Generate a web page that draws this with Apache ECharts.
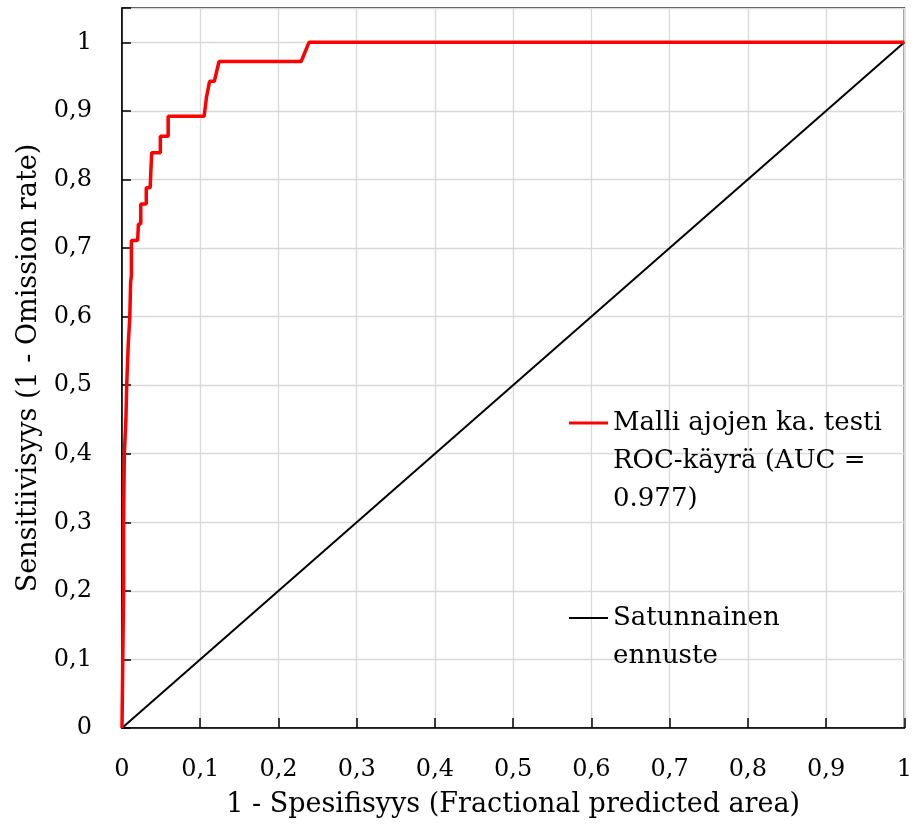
<!DOCTYPE html>
<html lang="fi">
<head>
    <meta charset="UTF-8">
    <script type="text/javascript" src="https://cdn.jsdelivr.net/npm/echarts@6/dist/echarts.min.js"></script>
    <title>ROC-käyrä</title>
    <style>
        html, body { margin: 0; padding: 0; background: #fff; }
    </style>
</head>
<body>
<div id="main" style="width: 915px;height:834px;"></div>
<script type="text/javascript">
    // ROC-käyrän pisteet [1 - spesifisyys, sensitiivisyys]
    var roc_x = [0, 0.001, 0.002, 0.002, 0.003, 0.005, 0.006, 0.008, 0.010, 0.011, 0.012, 0.012,
        0.020, 0.021, 0.024, 0.024, 0.031, 0.031, 0.036, 0.037, 0.038, 0.049, 0.049, 0.059, 0.059,
        0.105, 0.108, 0.112, 0.118, 0.124, 0.229, 0.239, 1];
    var roc_y = [0, 0.1, 0.2, 0.3, 0.4, 0.45, 0.5, 0.56, 0.6, 0.65, 0.66, 0.711,
        0.711, 0.735, 0.735, 0.764, 0.764, 0.788, 0.788, 0.815, 0.839, 0.839, 0.863, 0.863, 0.892,
        0.892, 0.92, 0.943, 0.943, 0.972, 0.972, 1, 1];
    // satunnainen ennuste
    var rand_x = [0, 1];
    var rand_y = [0, 1];

    var nimi_roc = 'Malli ajojen ka. testi\nROC-käyrä (AUC =\n0.977)';
    var nimi_rand = 'Satunnainen\nennuste';

    function pairs(xs, ys) {
        var out = [];
        for (var i = 0; i < xs.length; i++) {
            out.push([xs[i], ys[i]]);
        }
        return out;
    }

    function pilkku(v) {
        return String(+v.toFixed(2)).replace('.', ',');
    }

    var font = 'DejaVu Serif';
    var myChart = echarts.init(document.getElementById('main'));

    // selite: tyhjät rivit eteen, jotta viiva osuu ensimmäiselle riville
    var legendText = {
        fontFamily: font,
        fontSize: 26,
        color: '#000',
        lineHeight: 38
    };

    var option = {
        animation: false,
        textStyle: { fontFamily: font, color: '#000' },
        grid: {
            left: 122,
            right: 10,
            top: 8,
            bottom: 106,
            show: true,
            borderColor: '#000',
            borderWidth: 1.5
        },
        legend: [
            {
                data: [nimi_roc],
                left: 569,
                top: 328,
                padding: 0,
                icon: 'rect',
                itemWidth: 39,
                itemHeight: 3,
                itemGap: 5,
                formatter: function (name) { return '\n\n' + name; },
                textStyle: legendText
            },
            {
                data: [nimi_rand],
                left: 569,
                top: 561,
                padding: 0,
                icon: 'rect',
                itemWidth: 39,
                itemHeight: 2,
                itemGap: 5,
                formatter: function (name) { return '\n' + name; },
                textStyle: legendText
            }
        ],
        xAxis: {
            type: 'value',
            min: 0,
            max: 1,
            interval: 0.1,
            name: '1 - Spesifisyys (Fractional predicted area)',
            nameLocation: 'middle',
            nameGap: 63,
            nameTextStyle: { fontFamily: font, fontSize: 27, color: '#000' },
            axisLine: { lineStyle: { color: '#000', width: 1.5 } },
            axisTick: { inside: true, length: 10, lineStyle: { color: '#000', width: 1.5 } },
            axisLabel: {
                margin: 30,
                fontFamily: font,
                fontSize: 24,
                color: '#000',
                formatter: pilkku
            },
            splitLine: { show: true, lineStyle: { color: '#d9d9d9', width: 1.3 } }
        },
        yAxis: {
            type: 'value',
            min: 0,
            max: 1.05,
            interval: 0.1,
            name: 'Sensitiivisyys (1 - Omission rate)',
            nameLocation: 'middle',
            nameGap: 80,
            nameTextStyle: { fontFamily: font, fontSize: 27, color: '#000' },
            axisLine: { lineStyle: { color: '#000', width: 1.5 } },
            axisTick: { inside: true, length: 9, lineStyle: { color: '#000', width: 1.5 } },
            axisLabel: {
                margin: 30,
                fontFamily: font,
                fontSize: 24,
                color: '#000',
                formatter: function (v) {
                    if (v > 1.001) return '';
                    return pilkku(v);
                }
            },
            splitLine: { show: true, lineStyle: { color: '#d9d9d9', width: 1.3 } }
        },
        series: [
            {
                name: nimi_rand,
                type: 'line',
                symbol: 'none',
                clip: false,
                lineStyle: { color: '#000', width: 2 },
                itemStyle: { color: '#000' },
                data: pairs(rand_x, rand_y),
                z: 2
            },
            {
                name: nimi_roc,
                type: 'line',
                symbol: 'none',
                clip: false,
                lineStyle: { color: '#ff0000', width: 3.5 },
                itemStyle: { color: '#ff0000' },
                data: pairs(roc_x, roc_y),
                z: 3
            }
        ]
    };
    myChart.setOption(option);
</script>
</body>
</html>
